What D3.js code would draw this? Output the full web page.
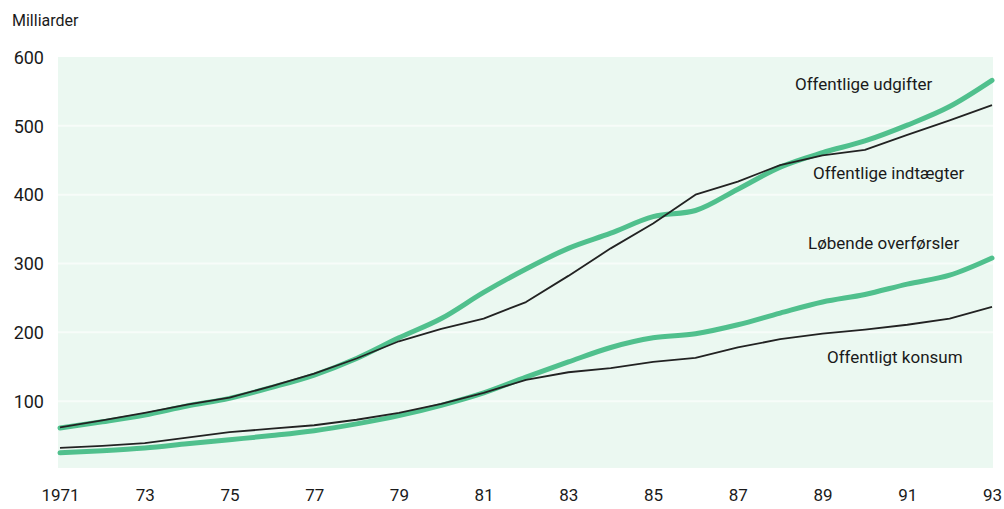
<!DOCTYPE html>
<html><head><meta charset="utf-8">
<script src="https://cdn.jsdelivr.net/npm/d3@7"></script>
<style>
html,body{margin:0;padding:0;background:#fff;}
svg text{font-family:"Roboto","Liberation Sans",sans-serif;fill:#1a1a1a;}
</style></head>
<body>
<svg id="c" width="1004" height="509"></svg>
<script>
const years = d3.range(1971, 1994);
const udgifter   = [61,70,80,93,104,120,138,162,192,220,258,292,322,344,368,377,408,440,461,478,501,528,566];
const indtaegter = [62,72,83,95,105,122,140,162,187,205,220,244,282,322,358,400,419,443,457,465,487,508,530];
const overforsler= [25,28,32,38,44,50,57,67,79,94,112,135,157,178,192,198,211,228,244,255,270,283,308];
const konsum     = [32,35,39,47,55,60,65,73,83,96,112,131,142,148,157,163,178,190,198,204,211,220,237];
const yTicks = [100,200,300,400,500,600];
const xTicks = [1971,1973,1975,1977,1979,1981,1983,1985,1987,1989,1991,1993];
const xTickLabels = ["1971","73","75","77","79","81","83","85","87","89","91","93"];
const seriesLabels = ["Offentlige udgifter","Offentlige indtægter","Løbende overførsler","Offentligt konsum"];

const svg = d3.select("#c");
const x = d3.scaleLinear().domain([1971,1993]).range([60,992]);
const y = d3.scaleLinear().domain([0,600]).range([470,57]);

// background panel
svg.append("rect").attr("x",58).attr("y",y(600)).attr("width",935).attr("height",y(3)-y(600))
  .attr("fill","#ebf8f1");
svg.append("g").selectAll("line").data(yTicks.slice(0,5)).join("line")
  .attr("x1",58).attr("x2",993).attr("y1",d=>y(d)).attr("y2",d=>y(d))
  .attr("stroke","#fff").attr("stroke-width",2).attr("opacity",0.6);

// axes (text only)
const yAxis = d3.axisLeft(y).tickValues(yTicks).tickSize(0).tickPadding(0);
const gy = svg.append("g").attr("transform","translate(44,0)").call(yAxis);
gy.select(".domain").remove();
gy.selectAll("text").attr("font-size",18).attr("dy","0.35em")
  .style("font-family",'"Roboto",sans-serif').attr("fill","#1a1a1a");

const xAxis = d3.axisBottom(x).tickValues(xTicks).tickSize(0).tickPadding(0)
  .tickFormat((d,i)=>xTickLabels[i]);
const gx = svg.append("g").attr("transform","translate(0,489)").call(xAxis);
gx.select(".domain").remove();
gx.selectAll("text").attr("font-size",17).attr("dy","0.71em")
  .style("font-family",'"Roboto",sans-serif').attr("fill","#1a1a1a");

svg.append("text").attr("x",12).attr("y",26).attr("font-size",16).text("Milliarder");

const smooth = d3.line().x((d,i)=>x(years[i])).y(d=>y(d)).curve(d3.curveMonotoneX);
const straight = d3.line().x((d,i)=>x(years[i])).y(d=>y(d));
const green = "#50c08d";
svg.append("path").datum(overforsler).attr("d",smooth).attr("fill","none").attr("stroke",green).attr("stroke-width",5).attr("stroke-linecap","round");
svg.append("path").datum(udgifter).attr("d",smooth).attr("fill","none").attr("stroke",green).attr("stroke-width",5).attr("stroke-linecap","round");
svg.append("path").datum(konsum).attr("d",straight).attr("fill","none").attr("stroke","#222").attr("stroke-width",1.8).attr("stroke-linejoin","round");
svg.append("path").datum(indtaegter).attr("d",straight).attr("fill","none").attr("stroke","#222").attr("stroke-width",1.8).attr("stroke-linejoin","round");

const labelPos = [[795,90],[813,179],[808,249],[827,363]];
svg.append("g").selectAll("text").data(seriesLabels).join("text")
  .attr("x",(d,i)=>labelPos[i][0]).attr("y",(d,i)=>labelPos[i][1])
  .attr("font-size",17).text(d=>d);
</script>
</body></html>
